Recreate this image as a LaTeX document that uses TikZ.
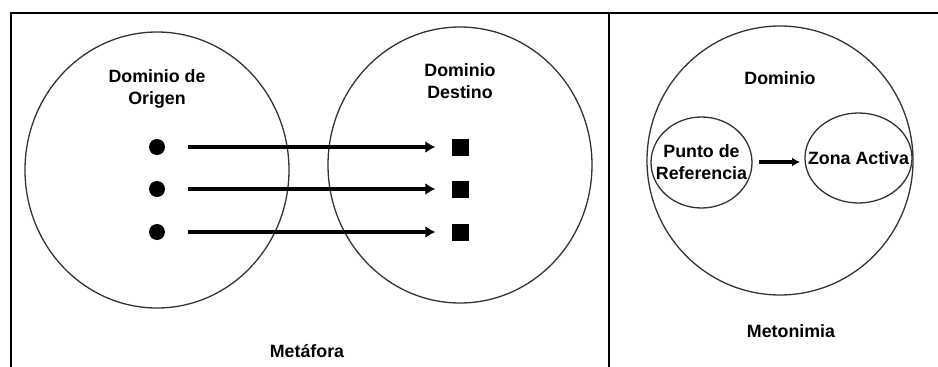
\documentclass[tikz,border=0pt]{standalone}
\usepackage{fontspec}
\setmainfont{Liberation Sans}
\usetikzlibrary{arrows.meta,shapes.geometric}
\begin{document}
\begin{tikzpicture}[x=1pt,y=-1pt,
  domain/.style={draw=black!80,line width=1.3pt,ellipse,minimum width=#1,inner sep=0pt},
  lbl/.style={font=\bfseries\fontsize{17.8}{22}\selectfont,align=center,inner sep=0pt},
  dot/.style={circle,fill=black,minimum size=16pt,inner sep=0pt},
  sq/.style={rectangle,fill=black,minimum size=17pt,inner sep=0pt},
  maparrow/.style={line width=3.6pt,-{Latex[length=10pt,width=12pt]}},
  frame/.style={line width=2pt}]
\useasboundingbox (0,0) rectangle (938,367);
% panel frame
\draw[frame] (11,367) -- (11,13) -- (938,13);
\draw[frame] (609,13) -- (609,367);

% metaphor: two domains
\node[domain=264pt,minimum height=276pt] (orig) at (157,170) {};
\node[domain=264pt,minimum height=276pt] (dest) at (460,165) {};
\node[lbl] (origl) at (157,89) {Dominio de\\Origen};
\node[lbl] (destl) at (460,81) {Dominio\\Destino};
\foreach \i/\y in {1/147,2/189,3/232}{
  \node[dot] (s\i) at (157,\y) {};
  \node[sq] (t\i) at (460,\y) {};
  \coordinate (a\i) at ([xshift=23pt]s\i.east);
  \coordinate (b\i) at ([xshift=-16pt]t\i.west);
  \draw[maparrow] (a\i) -- (b\i);
}
\node[lbl] (metaf) at (307,351) {Metáfora};

% metonymy
\node[domain=266pt,minimum height=269pt] (dom) at (780,160.5) {};
\node[lbl] (doml) at (780,78) {Dominio};
\node[domain=101pt,minimum height=91pt] (punto) at (701.5,162.5) {};
\node[lbl] at (punto) {Punto de\\Referencia};
\node[domain=107pt,minimum height=90pt] (zona) at (858.5,158) {};
\node[lbl] at (zona) {Zona Activa};
\coordinate (pa) at (759,162);
\coordinate (pb) at (800,162);
\draw[line width=3.2pt,-{Latex[length=8pt,width=9pt]}] (pa) -- (pb);
\node[lbl] (meton) at (791,331) {Metonimia};
\end{tikzpicture}
\end{document}
